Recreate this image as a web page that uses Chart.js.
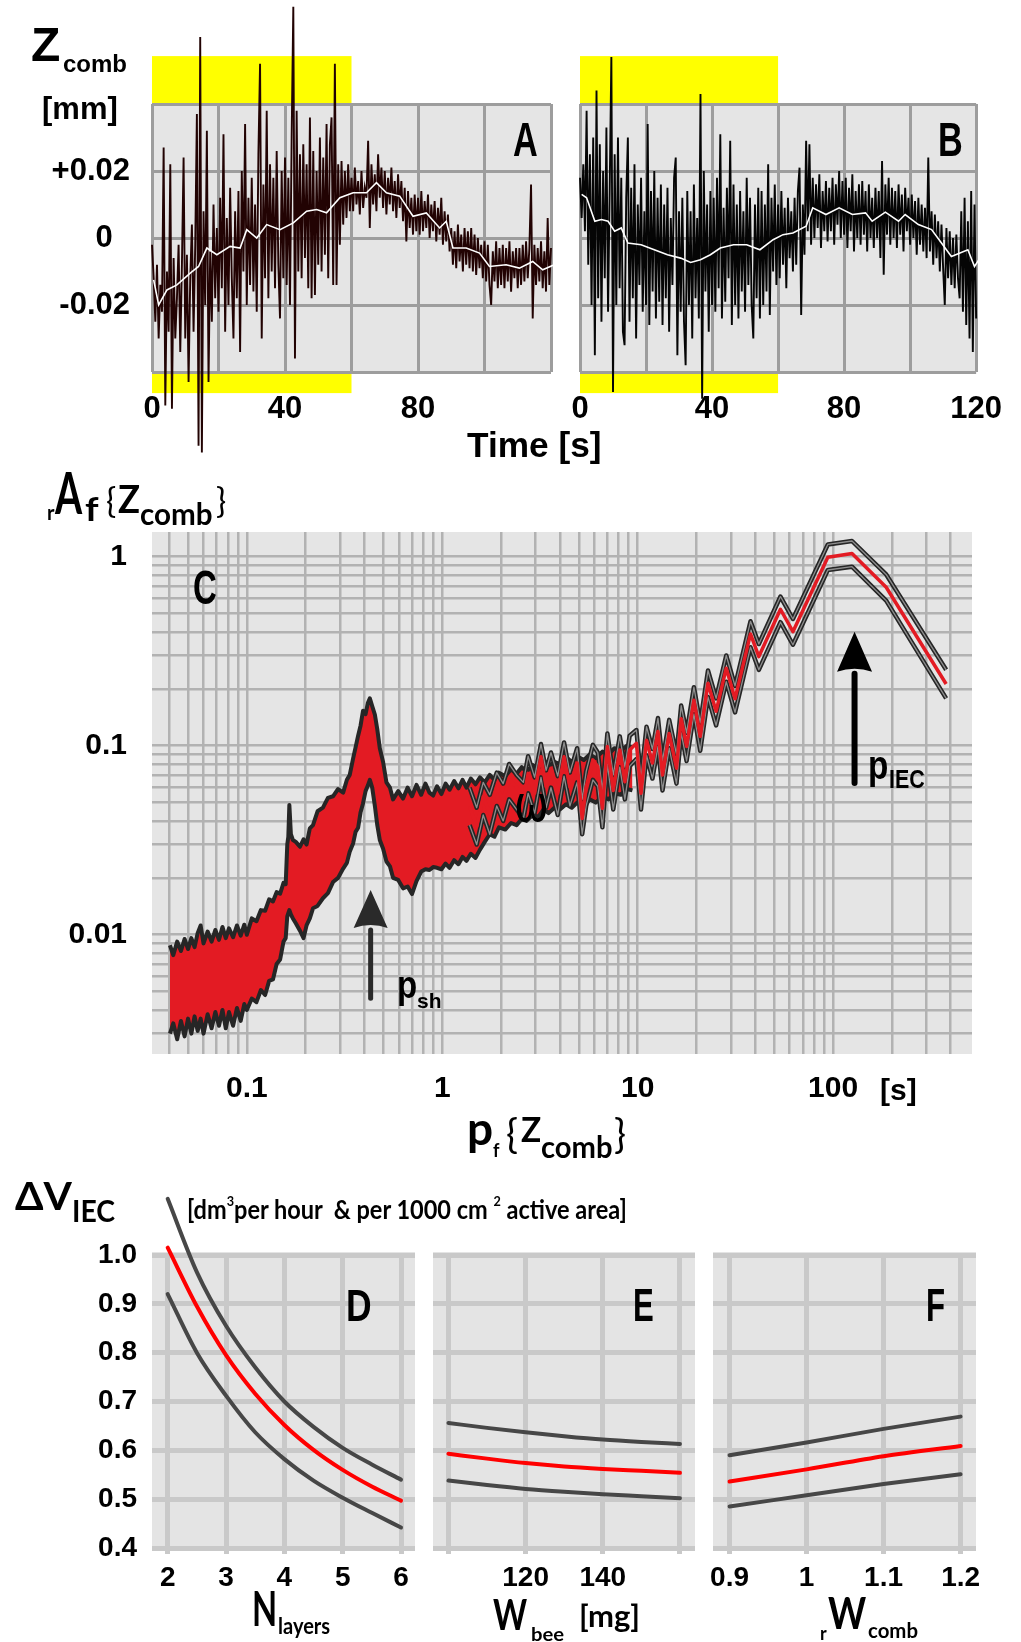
<!DOCTYPE html>
<html>
<head>
<meta charset="utf-8">
<title>Comb vibration and IEC volume</title>
<script src="https://cdn.jsdelivr.net/npm/chart.js"></script>
<style>
  html, body { margin: 0; padding: 0; background: #fff; }
  #page { position: relative; width: 1021px; height: 1642px; overflow: hidden; }
  #page canvas { position: absolute; left: 0; top: 0; }
  .t { position: absolute; white-space: nowrap; line-height: 1; color: #000; transform-origin: 0 0; z-index: 5; }
  .num { font-family: "Liberation Sans", Arial, sans-serif; font-weight: bold; }
  .cal { font-family: Lato, "Open Sans", sans-serif; }
  .b { font-weight: bold; }
  .sup { font-size: 14px; position: relative; top: -13px; }
</style>
</head>
<body>
<div id="page">
  <canvas id="chartA" width="1021" height="1642"></canvas>
  <canvas id="chartB" width="1021" height="1642"></canvas>
  <canvas id="chartC" width="1021" height="1642"></canvas>
  <canvas id="chartD" width="1021" height="1642"></canvas>
  <canvas id="chartE" width="1021" height="1642"></canvas>
  <canvas id="chartF" width="1021" height="1642"></canvas>

  <!-- panel A/B titles -->
  <div class="t num" style="left:31px;top:21px;font-size:48px">Z</div>
  <div class="t num" style="left:63px;top:52px;font-size:24px">comb</div>
  <div class="t num" style="left:42px;top:93px;font-size:31px">[mm]</div>
  <div class="t num" style="left:513px;top:116px;font-size:48px" data-w="25">A</div>
  <div class="t num" style="left:938px;top:116px;font-size:48px" data-w="25">B</div>
  <div class="t num" style="left:467px;top:427px;font-size:35px" data-w="135">Time [s]</div>

  <!-- panel C titles -->
  <div class="t cal b" style="left:47px;top:502px;font-size:20px">r</div>
  <div class="t cal b" style="left:55px;top:463px;font-size:58px" data-w="27">A</div>
  <div class="t cal b" style="left:85px;top:493px;font-size:32px" data-w="13">f</div>
  <div class="t cal" style="left:106px;top:483px;font-size:34px">{</div>
  <div class="t cal b" style="left:118px;top:479px;font-size:38px" data-w="22">Z</div>
  <div class="t cal b" style="left:140px;top:498px;font-size:30px" data-w="73">comb</div>
  <div class="t cal" style="left:216px;top:483px;font-size:34px">}</div>
  <div class="t num" style="left:193px;top:564px;font-size:48px" data-w="24">C</div>
  <div class="t num" style="left:514px;top:779px;font-size:50px;font-family:'DejaVu Sans';font-weight:normal" data-w="35">ω</div>
  <div class="t num" style="left:397px;top:966px;font-size:38px" data-w="20">p</div>
  <div class="t num" style="left:417px;top:990px;font-size:21px" data-w="25">sh</div>
  <div class="t num" style="left:868px;top:745px;font-size:40px" data-w="20">p</div>
  <div class="t num" style="left:889px;top:767px;font-size:25px" data-w="36">IEC</div>
  <div class="t num" style="left:880px;top:1075px;font-size:30px" data-w="37">[s]</div>
  <div class="t cal b" style="left:467px;top:1105px;font-size:46px" data-w="26">p</div>
  <div class="t cal b" style="left:493px;top:1141px;font-size:18px">f</div>
  <div class="t cal" style="left:506px;top:1113px;font-size:40px">{</div>
  <div class="t cal b" style="left:521px;top:1111px;font-size:35px" data-w="20">Z</div>
  <div class="t cal b" style="left:541px;top:1131px;font-size:30px" data-w="72">comb</div>
  <div class="t cal" style="left:614px;top:1113px;font-size:40px">}</div>

  <!-- panels D-F titles -->
  <div class="t cal b" style="left:15px;top:1176px;font-size:38px" data-w="57">ΔV</div>
  <div class="t cal b" style="left:72px;top:1195px;font-size:31px" data-w="43">IEC</div>
  <div class="t cal b" style="left:187px;top:1196px;font-size:26px" data-w="440">[dm<span class="sup">3</span>per hour&nbsp;&nbsp;&amp; per 1000 cm <span class="sup">2</span> active area]</div>
  <div class="t num" style="left:346px;top:1283px;font-size:45px" data-w="26">D</div>
  <div class="t num" style="left:633px;top:1282px;font-size:46px" data-w="21">E</div>
  <div class="t num" style="left:926px;top:1282px;font-size:46px" data-w="19">F</div>
  <div class="t cal b" style="left:252px;top:1585px;font-size:47px" data-w="25">N</div>
  <div class="t cal b" style="left:278px;top:1615px;font-size:22px" data-w="52">layers</div>
  <div class="t cal b" style="left:493px;top:1593px;font-size:42px" data-w="34">W</div>
  <div class="t cal b" style="left:531px;top:1624px;font-size:19px" data-w="33">bee</div>
  <div class="t cal b" style="left:579px;top:1600px;font-size:30px" data-w="61">[mg]</div>
  <div class="t cal b" style="left:820px;top:1624px;font-size:18px">r</div>
  <div class="t cal b" style="left:828px;top:1590px;font-size:44px" data-w="38">W</div>
  <div class="t cal b" style="left:868px;top:1620px;font-size:20px" data-w="50">comb</div>
</div>

<script>
// ---------- time traces, Z_comb in µm, one sample every 0.5 s ----------
const STEP_S = 0.5;
const zA = [
  -2, -12, -25, -8, -30, -14, -22, 27, -50, -10,
  -28, 22, -51, -6, -30, -18, -2, -34, -8, 24,
  -30, -5, -43, -12, 4, -28, -2, 37, -62, 60,
  -64, 8, -20, 32, -43, -4, -25, 10, -18, 3,
  -22, 12, -15, 31, -28, 6, -20, 15, -12, -30,
  8, -18, 14, -34, 20, -10, 34, -20, 12, -14,
  18, -16, 10, -22, 25, 52, -30, 16, -12, 38,
  -18, 22, -10, 18, -15, 26, -8, -24, 20, -12,
  24, -14, 18, -20, 30, 69, -36, 38, -10, 25,
  -12, 28, -6, 22, -15, 36, -18, 26, -17, 20,
  -8, 30, -10, 24, -5, 34, -12, 28, 36, -14,
  52, -14, 22, -2, 23, 4, 20, 6, 22, 8,
  18, 8, 21, 10, 17, 7, 20, 9, 15, 12,
  29, 3, 22, 10, 19, 8, 25, 12, 21, 9,
  20, 7, 18, 10, 21, 8, 17, 6, 19, 9,
  17, 5, 15, -1, 14, 3, 12, 1, 13, 2,
  12, 1, 14, 2, 11, 3, 13, 0, 10, 2,
  11, -1, 9, 1, 12, -2, 8, -1, 7, -4,
  3, -8, 2, -9, 4, -7, 1, -10, 3, -8,
  2, -9, 3, -10, 1, -11, 0, -9, -2, -12,
  -1, -13, -2, -14, -20, -4, -13, -1, -15, -3,
  -14, -2, -15, -3, -13, -1, -16, -4, -12, -3,
  -15, -3, -14, -2, -13, -1, -12, -3, 16, -24,
  -2, -14, -3, -13, -1, -15, -4, -16, 6, -14,
  -3, -15, -2, -14, -4, -13, -2, -15, -5, -12, -3, -10
];
const zB = [
  18, 6, 22, 2, 38, -8, 25, -20, 30, -35,
  44, -18, 28, -25, 20, -12, 33, -22, 15, 54,
  -46, 25, -20, 30, -15, 18, -28, -32, 12, 30,
  -25, 15, -18, 22, -30, 10, -14, 18, -22, 8,
  -20, 34, -26, 14, -16, 20, -24, 12, -19, 16,
  -26, 10, -18, 15, -28, 6, -14, 18, 24, -35,
  8, -22, 12, -25, -38, 14, -20, 8, -30, 16,
  -18, 6, -24, 43, -48, 20, -16, 10, -28, 14,
  -20, 12, -22, 18, -15, 31, -24, 9, -19, 15,
  -12, 29, -26, 16, -20, 10, -24, 14, -16, 8,
  -22, 18, -14, 12, -20, -30, 10, -18, 15, -24,
  14, -20, 10, -16, 22, -23, 12, -10, 16, -14,
  10, -12, 14, -8, 9, -15, 12, -6, 8, -10,
  12, -8, 14, 21, -23, 10, -5, 29, 2, 28,
  -2, 18, 0, 16, 3, 19, -3, 14, 2, 17,
  -1, 15, 2, 18, -2, 16, 4, 20, 0, 17,
  1, 18, -3, 15, 2, 19, -4, 14, 0, 16,
  -2, 17, 1, 14, -4, 16, 0, 12, -3, 15,
  0, 14, -6, 23, -11, 16, 1, 18, -2, 15,
  0, 14, -3, 16, 1, 13, -4, 15, 2, 12,
  -2, 13, 0, 11, -5, 12, -2, 10, -4, 9,
  -6, 24, -4, 8, -8, 7, -6, 5, -10, 4,
  -9, -20, 3, -12, 2, -14, 0, -15, 1, -12,
  -18, 8, -22, 12, -26, 5, -30, 14, -34, 10,
  -24, 15, -30, 10, -28, 16, -32, 12, -26, 14, -22, 8
];
// running means (white)
const meanATime = [0.5, 2, 4.5, 7.5, 11.5, 14, 16.5, 19.5, 23.5, 26.5, 28.5, 31.5, 34.5, 38.5, 42.5, 46.5, 49.5, 52.5, 56.5, 60.5, 64.5, 67.5, 70.5, 74.5, 78.5, 82.5, 86.5, 88.5, 90.5, 94.5, 98.5, 101.5, 106.5, 110.5, 114.5, 117.5, 121, 125];
const meanA = [-12.5, -20, -15.5, -14, -10.5, -8.5, -3, -5, -2.5, -3, 2.5, 0, 4, 2.5, 4.5, 8, 8.5, 7.5, 12, 13.5, 13.5, 16.5, 13.5, 12.5, 6.5, 7.5, 3, 5, -3, -3, -4.5, -8.5, -8, -9, -7, -9.5, -8, -8.5];
const meanBTime = [0.5, 2, 4.5, 6.5, 8.5, 10.5, 12.5, 14.5, 18.5, 22.5, 26.5, 30.5, 33.5, 36.5, 39.5, 42.5, 46.5, 50.5, 54.5, 58.5, 61.5, 64.5, 68.5, 70.5, 74.5, 78.5, 82.5, 86.5, 88.5, 92.5, 96.5, 98.5, 102.5, 106.5, 109.5, 112.5, 117.5, 119.5, 121.5, 124.5];
const meanB = [13, 12, 5, 5.5, 5, 2, 3, -1.5, -2, -3.5, -5, -6, -7.3, -6.5, -5, -3, -2, -2, -3.5, -0.5, 1, 1.5, 3.5, 9, 7, 9, 7, 7.5, 5, 7.7, 5, 7, 4, 2.5, -1.5, -5.5, -3.5, -8.5, -5.5, -4.5];

const timeTicks = [0, 20, 40, 60, 80, 100, 120];
const timeLabelsA = ['0', '', '40', '', '80', '', ''];
const timeLabelsB = ['0', '', '40', '', '80', '', '120'];
const zTicks = [-40, -20, 0, 20, 40];
const zLabels = ['', '-0.02', '0  ', '+0.02', ''];
const shadedSpan = [0, 60];          // s, yellow marks
const shadeTop = [40, 54.3];         // µm
const shadeBottom = [-46.3, -40];    // µm

// ---------- amplitude spectrum ----------
// dense short-period part: upper and lower edge of the spectrum band
const bandP = [0.0404, 0.042, 0.044, 0.046, 0.048, 0.050, 0.052, 0.054, 0.056, 0.058, 0.060, 0.063, 0.066, 0.069, 0.072, 0.075, 0.078, 0.081, 0.085, 0.089, 0.093, 0.097, 0.100, 0.106, 0.112, 0.118, 0.124, 0.130, 0.136, 0.142, 0.148, 0.154, 0.158, 0.161, 0.163, 0.165, 0.168, 0.172, 0.178, 0.187, 0.195, 0.202, 0.210, 0.218, 0.230, 0.245, 0.260, 0.276, 0.293, 0.311, 0.325, 0.336, 0.350, 0.360, 0.371, 0.382, 0.393, 0.405, 0.416, 0.426, 0.438, 0.452, 0.465, 0.479, 0.498, 0.518, 0.540, 0.560, 0.595, 0.630, 0.665, 0.700, 0.738, 0.780, 0.820, 0.860, 0.898, 0.940, 0.990, 1.04, 1.09, 1.15, 1.21, 1.27, 1.33, 1.40, 1.48, 1.56,
  1.65, 1.75, 1.85, 1.95, 2.1, 2.25, 2.4, 2.55, 2.7, 2.9, 3.1, 3.3, 3.5, 3.75, 4.0, 4.3, 4.6, 4.9, 5.3, 5.7, 6.1, 6.6, 7.1, 7.6, 8.2, 8.8, 9.4];
const bandTop = [0.0088, 0.0078, 0.0092, 0.0082, 0.0095, 0.0084, 0.0096, 0.0086, 0.0102, 0.0112,
  0.0090, 0.0104, 0.0092, 0.0106, 0.0094, 0.0110, 0.0096, 0.0108, 0.0097, 0.0112,
  0.0099, 0.0113, 0.0100, 0.0122, 0.0118, 0.0135, 0.0134, 0.0154, 0.0150, 0.0168,
  0.0165, 0.0188, 0.0185, 0.0300, 0.0330, 0.0486, 0.0340, 0.0317, 0.0310, 0.0292,
  0.0320, 0.0300, 0.0365, 0.0380, 0.0450, 0.0470, 0.0530, 0.0540, 0.0590, 0.0565,
  0.0660, 0.0700, 0.0860, 0.0980, 0.1130, 0.1280, 0.1530, 0.1470, 0.1680, 0.1780,
  0.1620, 0.1460, 0.1220, 0.0970, 0.0820, 0.0640, 0.0600, 0.0520, 0.0575, 0.0525,
  0.0600, 0.0540, 0.0620, 0.0550, 0.0630, 0.0565, 0.0545, 0.0610, 0.0555, 0.0630,
  0.0585, 0.0650, 0.0595, 0.0660, 0.0600, 0.0670, 0.0625, 0.0680,
  0.0640, 0.0700, 0.0660, 0.0720, 0.0690, 0.0750, 0.0710, 0.0770, 0.0730, 0.0790,
  0.0760, 0.0830, 0.0780, 0.0820, 0.0800, 0.0870, 0.0820, 0.0880, 0.0840, 0.0900,
  0.0860, 0.0930, 0.0900, 0.0970, 0.0940, 0.1000, 0.0980];
const bandBottom = [0.0030, 0.0034, 0.0028, 0.0035, 0.0029, 0.0036, 0.0030, 0.0037, 0.0031, 0.0036,
  0.0030, 0.0038, 0.0032, 0.0039, 0.0033, 0.0040, 0.0032, 0.0039, 0.0033, 0.0041,
  0.0035, 0.0043, 0.0040, 0.0046, 0.0044, 0.0051, 0.0048, 0.0057, 0.0058, 0.0070,
  0.0074, 0.0092, 0.0096, 0.0125, 0.0130, 0.0135, 0.0128, 0.0122, 0.0115, 0.0105,
  0.0096, 0.0112, 0.0122, 0.0138, 0.0142, 0.0156, 0.0166, 0.0190, 0.0200, 0.0224,
  0.0240, 0.0275, 0.0305, 0.0350, 0.0368, 0.0445, 0.0495, 0.0575, 0.0615, 0.0659,
  0.0600, 0.0480, 0.0380, 0.0317, 0.0285, 0.0244, 0.0230, 0.0200, 0.0195, 0.0176,
  0.0180, 0.0164, 0.0192, 0.0216, 0.0222, 0.0220, 0.0228, 0.0226, 0.0222, 0.0238,
  0.0226, 0.0248, 0.0236, 0.0258, 0.0246, 0.0268, 0.0255, 0.0282,
  0.0310, 0.0340, 0.0330, 0.0370, 0.0360, 0.0390, 0.0380, 0.0410, 0.0400, 0.0430,
  0.0420, 0.0460, 0.0440, 0.0470, 0.0460, 0.0490, 0.0470, 0.0500, 0.0480, 0.0520,
  0.0500, 0.0540, 0.0520, 0.0560, 0.0550, 0.0590, 0.0580];

// resolved long-period part: mean (red) and its upper / lower bound
const specP = [1.38, 1.50, 1.62, 1.75, 1.90, 2.05, 2.20, 2.40, 2.60, 2.75, 2.97, 3.20, 3.40, 3.60, 3.90, 4.20, 4.50, 4.90, 5.20, 5.45, 5.90, 6.25, 6.60, 7.00, 7.50, 8.10, 8.60, 9.10, 9.85, 10.4, 11.1, 11.9, 12.7, 13.4, 14.5, 15.8, 16.7, 17.8, 19.4, 20.9, 22.9, 25.2, 28.4, 31.5, 37.8, 41.7, 53.8, 62.3, 94, 125, 187, 379];
const specMean = [0.0477, 0.0373, 0.0537, 0.0437, 0.0606, 0.0517, 0.066, 0.0606, 0.0517, 0.0714, 0.056, 0.0874, 0.0606, 0.076, 0.056, 0.0874, 0.0606, 0.081, 0.0412, 0.0606, 0.084, 0.0775, 0.0466, 0.099, 0.058, 0.095, 0.0645, 0.095, 0.103, 0.056, 0.107, 0.081, 0.119, 0.070, 0.116, 0.076, 0.139, 0.099, 0.174, 0.112, 0.214, 0.152, 0.257, 0.177, 0.390, 0.296, 0.527, 0.401, 0.993, 1.04, 0.689, 0.212];
const specHigh = [0.060, 0.047, 0.064, 0.055, 0.072, 0.063, 0.080, 0.070, 0.064, 0.088, 0.068, 0.102, 0.074, 0.092, 0.069, 0.104, 0.072, 0.097, 0.052, 0.073, 0.101, 0.092, 0.058, 0.116, 0.070, 0.112, 0.077, 0.113, 0.121, 0.067, 0.126, 0.096, 0.140, 0.083, 0.137, 0.090, 0.163, 0.117, 0.204, 0.132, 0.250, 0.178, 0.300, 0.207, 0.455, 0.345, 0.615, 0.468, 1.16, 1.21, 0.805, 0.252];
const specLow = [0.038, 0.030, 0.043, 0.034, 0.048, 0.040, 0.052, 0.046, 0.041, 0.056, 0.044, 0.068, 0.047, 0.060, 0.043, 0.069, 0.048, 0.064, 0.034, 0.048, 0.066, 0.061, 0.037, 0.080, 0.046, 0.077, 0.052, 0.078, 0.085, 0.046, 0.089, 0.067, 0.099, 0.058, 0.097, 0.063, 0.117, 0.083, 0.147, 0.094, 0.181, 0.128, 0.218, 0.150, 0.332, 0.252, 0.450, 0.342, 0.85, 0.885, 0.585, 0.178];

const periodTicks = [0.04, 0.05, 0.06, 0.07, 0.08, 0.09, 0.1, 0.2, 0.3, 0.4, 0.5, 0.6, 0.7, 0.8, 0.9, 1, 2, 3, 4, 5, 6, 7, 8, 9, 10, 20, 30, 40, 50, 60, 70, 80, 90, 100, 200, 300, 400];
const periodLabelAt = [0.1, 1, 10, 100];
const periodLabels = ['0.1', '1', '10', '100'];
const ampTicks = [0.003, 0.004, 0.005, 0.006, 0.007, 0.008, 0.009, 0.01, 0.02, 0.03, 0.04, 0.05, 0.06, 0.07, 0.08, 0.09, 0.1, 0.2, 0.3, 0.4, 0.5, 0.6, 0.7, 0.8, 0.9, 1];
const ampLabelAt = [0.01, 0.1, 1];
const ampLabels = ['0.01', '0.1', '1'];
// arrows marking p_sh and p_IEC: period, tail, head base, tip
const peakArrows = [
  { p: 0.43, tail: 0.00462, neck: 0.01085, tip: 0.01724, half: 17, width: 5, color: '#2a2a2a' },
  { p: 128.8, tail: 0.0635, neck: 0.2464, tip: 0.401, half: 17.5, width: 6, color: '#000000' }
];

// ---------- IEC volume vs. parameters ----------
const nLayers = [2, 2.5, 3, 3.5, 4, 4.5, 5, 5.5, 6];
const dMean = [1.015, 0.895, 0.795, 0.716, 0.652, 0.601, 0.56, 0.526, 0.497];
const dHigh = [1.115, 0.965, 0.855, 0.77, 0.70, 0.648, 0.605, 0.571, 0.540];
const dLow = [0.92, 0.80, 0.712, 0.637, 0.582, 0.538, 0.503, 0.472, 0.442];
const wBee = [100, 110, 120, 130, 140, 150, 160];
const eMean = [0.593, 0.583, 0.574, 0.567, 0.562, 0.558, 0.554];
const eHigh = [0.656, 0.646, 0.637, 0.629, 0.622, 0.617, 0.613];
const eLow = [0.538, 0.529, 0.521, 0.515, 0.510, 0.506, 0.502];
const rWcomb = [0.9, 1.0, 1.1, 1.2];
const fMean = [0.536, 0.561, 0.588, 0.609];
const fHigh = [0.590, 0.616, 0.644, 0.669];
const fLow = [0.485, 0.508, 0.531, 0.551];

const layerTicks = [2, 3, 4, 5, 6];
const layerLabels = ['2', '3', '4', '5', '6'];
const beeTicks = [100, 120, 140, 160];
const beeLabels = ['', '120', '140', ''];
const combTicks = [0.9, 1.0, 1.1, 1.2];
const combLabels = ['0.9', '1', '1.1', '1.2'];
const volTicks = [0.4, 0.5, 0.6, 0.7, 0.8, 0.9, 1.0];
const volLabels = ['0.4', '0.5', '0.6', '0.7', '0.8', '0.9', '1.0'];

// ---------- helpers ----------
const PAGE_W = 1021, PAGE_H = 1642;
Chart.defaults.font.family = '"Liberation Sans", Arial, sans-serif';
Chart.defaults.color = '#000';

const xy = (xs, ys) => xs.map((x, i) => ({ x, y: ys[i] }));
const byIndex = texts => (v, i) => texts[i];
const byValue = (vals, texts) => v => {
  const i = vals.findIndex(t => Math.abs(t - v) <= t * 1e-6);
  return i < 0 ? '' : texts[i];
};
const fixedTicks = vals => scale => { scale.ticks = vals.map(v => ({ value: v })); };

// grey panel background plus optional coloured bands, under the grid
const panelBg = {
  id: 'panelBg',
  beforeDraw(chart, args, opts) {
    const { ctx, chartArea: a, scales: { x, y } } = chart;
    ctx.save();
    (opts.bands || []).forEach(b => {
      const x0 = x.getPixelForValue(b.x[0]), x1 = x.getPixelForValue(b.x[1]);
      const y0 = y.getPixelForValue(b.y[0]), y1 = y.getPixelForValue(b.y[1]);
      ctx.fillStyle = b.color;
      ctx.fillRect(Math.min(x0, x1), Math.min(y0, y1), Math.abs(x1 - x0), Math.abs(y1 - y0));
    });
    const pad = opts.pad || 0;
    ctx.fillStyle = opts.color;
    ctx.fillRect(a.left, a.top - pad, a.right - a.left, a.bottom - a.top + 2 * pad);
    ctx.restore();
  }
};

const arrowMarks = {
  id: 'arrowMarks',
  afterDatasetsDraw(chart, args, opts) {
    const { ctx, scales: { x, y } } = chart;
    (opts.list || []).forEach(a => {
      const px = x.getPixelForValue(a.p);
      const yTail = y.getPixelForValue(a.tail), yNeck = y.getPixelForValue(a.neck), yTip = y.getPixelForValue(a.tip);
      ctx.save();
      ctx.strokeStyle = ctx.fillStyle = a.color;
      ctx.lineWidth = a.width;
      ctx.lineCap = 'round';
      ctx.beginPath(); ctx.moveTo(px, yTail); ctx.lineTo(px, yNeck + 2); ctx.stroke();
      ctx.beginPath();
      ctx.moveTo(px, yTip);
      ctx.lineTo(px - a.half, yNeck);
      ctx.quadraticCurveTo(px, yNeck - 6, px + a.half, yNeck);
      ctx.closePath(); ctx.fill();
      ctx.restore();
    });
  }
};

// area = [left, top, right, bottom] of the plotting box on the page
function panel(id, area, datasets, scales, opts) {
  const [l, t, r, b] = area;
  scales.x.afterFit = s => { s.height = PAGE_H - b; };
  scales.y.afterFit = s => { s.width = l; };
  return new Chart(document.getElementById(id), {
    type: 'line',
    data: { datasets },
    options: {
      responsive: false,
      animation: false,
      events: [],
      layout: { padding: { left: 0, top: t, right: PAGE_W - r, bottom: 0 } },
      elements: { point: { radius: 0 }, line: { tension: 0 } },
      plugins: Object.assign({ legend: { display: false }, tooltip: { enabled: false } }, opts),
      scales
    },
    plugins: [panelBg, arrowMarks]
  });
}

// ---------- panels A and B ----------
function timeScales(xLabels, yLabels) {
  const grid = { color: '#9d9d9d', lineWidth: 3, drawTicks: false };
  const font = { size: 31, weight: 'bold' };
  return {
    x: { type: 'linear', min: 0, max: 120, grid, border: { display: false },
         afterBuildTicks: fixedTicks(timeTicks),
         ticks: { callback: byIndex(xLabels), font, padding: 19, autoSkip: false, maxRotation: 0 } },
    y: { type: 'linear', min: -40, max: 40, grid, border: { display: false },
         afterBuildTicks: fixedTicks(zTicks),
         ticks: { callback: byIndex(yLabels), font, padding: 22, autoSkip: false } }
  };
}
const timeBg = {
  panelBg: { color: '#e5e5e5', bands: [
    { x: shadedSpan, y: shadeTop, color: '#ffff00' },
    { x: shadedSpan, y: shadeBottom, color: '#ffff00' }
  ] }
};
const traceTimes = arr => arr.map((z, i) => ({ x: i * STEP_S, y: z }));

panel('chartA', [152, 104, 551, 372], [
  { data: xy(meanATime, meanA), borderColor: '#ffffff', borderWidth: 1.6, clip: false, order: 1 },
  { data: traceTimes(zA), borderColor: '#220303', borderWidth: 1.9, clip: false, order: 2 }
], timeScales(timeLabelsA, zLabels), timeBg);

panel('chartB', [580, 104, 977, 372], [
  { data: xy(meanBTime, meanB), borderColor: '#ffffff', borderWidth: 1.6, clip: false, order: 1 },
  { data: traceTimes(zB), borderColor: '#050505', borderWidth: 1.9, clip: false, order: 2 }
], timeScales(timeLabelsB, zTicks.map(() => '')), timeBg);

// ---------- panel C ----------
const red = '#e31b23', dark = '#262626', pale = '#8e8e8e';
const cGrid = { color: '#b2b2b2', lineWidth: 2.5, drawTicks: false };
const cFont = { size: 30, weight: 'bold' };
const jag = { borderJoinStyle: 'round', clip: false };
panel('chartC', [152, 532, 972, 1054], [
  Object.assign({ data: xy(bandP, bandTop), borderColor: dark, borderWidth: 4, fill: '+1', backgroundColor: red, order: 9 }, jag),
  Object.assign({ data: xy(bandP, bandBottom), borderColor: dark, borderWidth: 4, order: 8 }, jag),
  Object.assign({ data: xy(specP, specHigh), borderColor: dark, borderWidth: 4.5, order: 7 }, jag),
  Object.assign({ data: xy(specP, specHigh), borderColor: pale, borderWidth: 1.3, order: 6 }, jag),
  Object.assign({ data: xy(specP, specLow), borderColor: dark, borderWidth: 4.5, order: 5 }, jag),
  Object.assign({ data: xy(specP, specLow), borderColor: pale, borderWidth: 1.3, order: 4 }, jag),
  Object.assign({ data: xy(specP, specMean), borderColor: red, borderWidth: 3.5, order: 1 }, jag)
], {
  x: { type: 'logarithmic', min: 0.0327, max: 514, grid: cGrid, border: { display: false },
       afterBuildTicks: fixedTicks(periodTicks),
       ticks: { callback: byValue(periodLabelAt, periodLabels), font: cFont, padding: 17, autoSkip: false, maxRotation: 0 } },
  y: { type: 'logarithmic', min: 0.00234, max: 1.35, grid: cGrid, border: { display: false },
       afterBuildTicks: fixedTicks(ampTicks),
       ticks: { callback: byValue(ampLabelAt, ampLabels), font: cFont, padding: 25, autoSkip: false } }
}, { panelBg: { color: '#e5e5e5' }, arrowMarks: { list: peakArrows } });

// ---------- panels D, E, F ----------
const grey = '#474747', curveRed = '#ff0000';
function volScales(xMin, xMax, xTicks, xLabels, showY) {
  const grid = { color: '#c9c9c9', lineWidth: 5 };
  const font = { size: 28, weight: 'bold' };
  return {
    x: { type: 'linear', min: xMin, max: xMax, border: { display: false },
         grid: Object.assign({ drawTicks: true, tickLength: 6, tickColor: '#c9c9c9', tickWidth: 5 }, grid),
         afterBuildTicks: fixedTicks(xTicks),
         ticks: { callback: byIndex(xLabels), font, padding: 7, autoSkip: false, maxRotation: 0 } },
    y: { type: 'linear', min: 0.4, max: 1.0, border: { display: false },
         grid: Object.assign({ drawTicks: false }, grid),
         afterBuildTicks: fixedTicks(volTicks),
         ticks: { callback: showY ? byIndex(volLabels) : () => '', font, padding: 15, autoSkip: false } }
  };
}
function curves(xs, mean, high, low) {
  const s = { borderWidth: 4, borderCapStyle: 'round', cubicInterpolationMode: 'monotone', clip: false };
  return [
    Object.assign({ data: xy(xs, mean), borderColor: curveRed, order: 1 }, s),
    Object.assign({ data: xy(xs, high), borderColor: grey, order: 2 }, s),
    Object.assign({ data: xy(xs, low), borderColor: grey, order: 3 }, s)
  ];
}
const volBg = { panelBg: { color: '#e4e4e4', pad: 3 } };
panel('chartD', [152, 1255, 415, 1548], curves(nLayers, dMean, dHigh, dLow),
  volScales(1.731, 6.24, layerTicks, layerLabels, true), volBg);
panel('chartE', [433, 1255, 695, 1548], curves(wBee, eMean, eHigh, eLow),
  volScales(96.0, 163.9, beeTicks, beeLabels, false), volBg);
panel('chartF', [713, 1255, 976, 1548], curves(rWcomb, fMean, fHigh, fLow),
  volScales(0.8785, 1.22, combTicks, combLabels, false), volBg);

// squeeze the narrow headings to their drawn widths
document.querySelectorAll('.t[data-w]').forEach(el => {
  const w = +el.dataset.w;
  if (el.offsetWidth > 0) el.style.transform = 'scaleX(' + (w / el.offsetWidth).toFixed(3) + ')';
});
</script>
</body>
</html>
